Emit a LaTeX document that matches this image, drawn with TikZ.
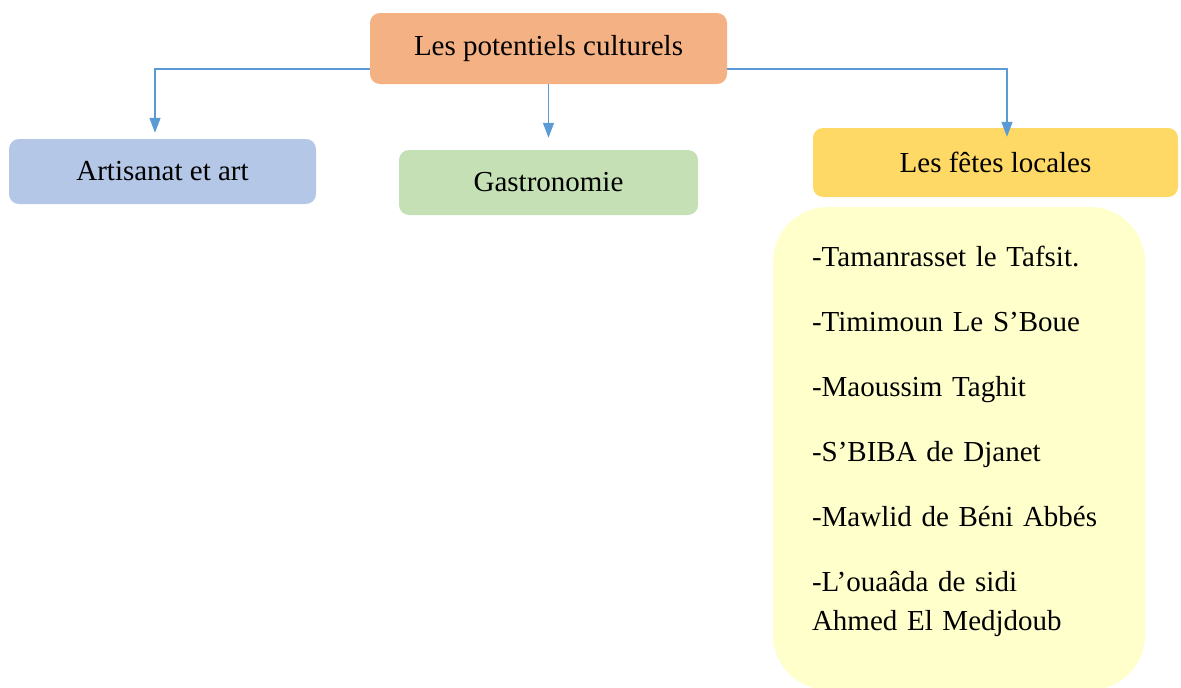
\documentclass[tikz,border=0pt]{standalone}
\usepackage{fontspec}
\setmainfont{Liberation Serif}
\usetikzlibrary{arrows.meta}
\definecolor{orangeclair}{HTML}{F4B183}
\definecolor{bleuclair}{HTML}{B4C7E7}
\definecolor{vertclair}{HTML}{C5E0B4}
\definecolor{jaune}{HTML}{FFD966}
\definecolor{creme}{HTML}{FFFFCC}
\definecolor{fleche}{HTML}{5B9BD5}
\begin{document}
\begin{tikzpicture}[x=1pt,y=-1pt,
  boite/.style={rounded corners=10pt,inner sep=0pt,font=\fontsize{29}{35}\selectfont},
  lien/.style={draw=fleche,line width=1.3pt,-{Triangle[width=11pt,length=15pt]}}]
\useasboundingbox (0,0) rectangle (1181,688);
\node[boite,fill=orangeclair,minimum width=357pt,minimum height=71pt] (pot) at (548.5,48.5) {Les potentiels culturels};
\node[boite,fill=bleuclair,minimum width=307pt,minimum height=65pt] (art) at (162.5,171.5) {Artisanat et art};
\node[boite,fill=vertclair,minimum width=299pt,minimum height=65pt] (gastro) at (548.5,182.5) {Gastronomie};
\node[boite,fill=jaune,minimum width=365pt,minimum height=69pt] (fetes) at (995.5,162.5) {Les fêtes locales};
\node[boite,fill=creme,rounded corners=55pt,minimum width=372pt,minimum height=483pt,
  text width=294pt,inner xsep=39pt,align=left,font=\fontsize{29}{39}\selectfont] (liste) at (959,448.5)
  {-Tamanrasset le Tafsit.\\[26pt]
   -Timimoun Le S’Boue\\[26pt]
   -Maoussim Taghit\\[26pt]
   -S’BIBA de Djanet\\[26pt]
   -Mawlid de Béni Abbés\\[26pt]
   -L’ouaâda de sidi\\
   Ahmed El Medjdoub\\[-19pt]\mbox{}};
\draw[lien] ([yshift=-20.5pt]pot.west) -| ([xshift=-7.5pt,yshift=6pt]art.north);
\draw[lien] (pot.south) -- ([yshift=12pt]gastro.north);
\draw[lien] ([yshift=-20.5pt]pot.east) -| ([xshift=11.5pt,yshift=-9pt]fetes.north);
\end{tikzpicture}
\end{document}
